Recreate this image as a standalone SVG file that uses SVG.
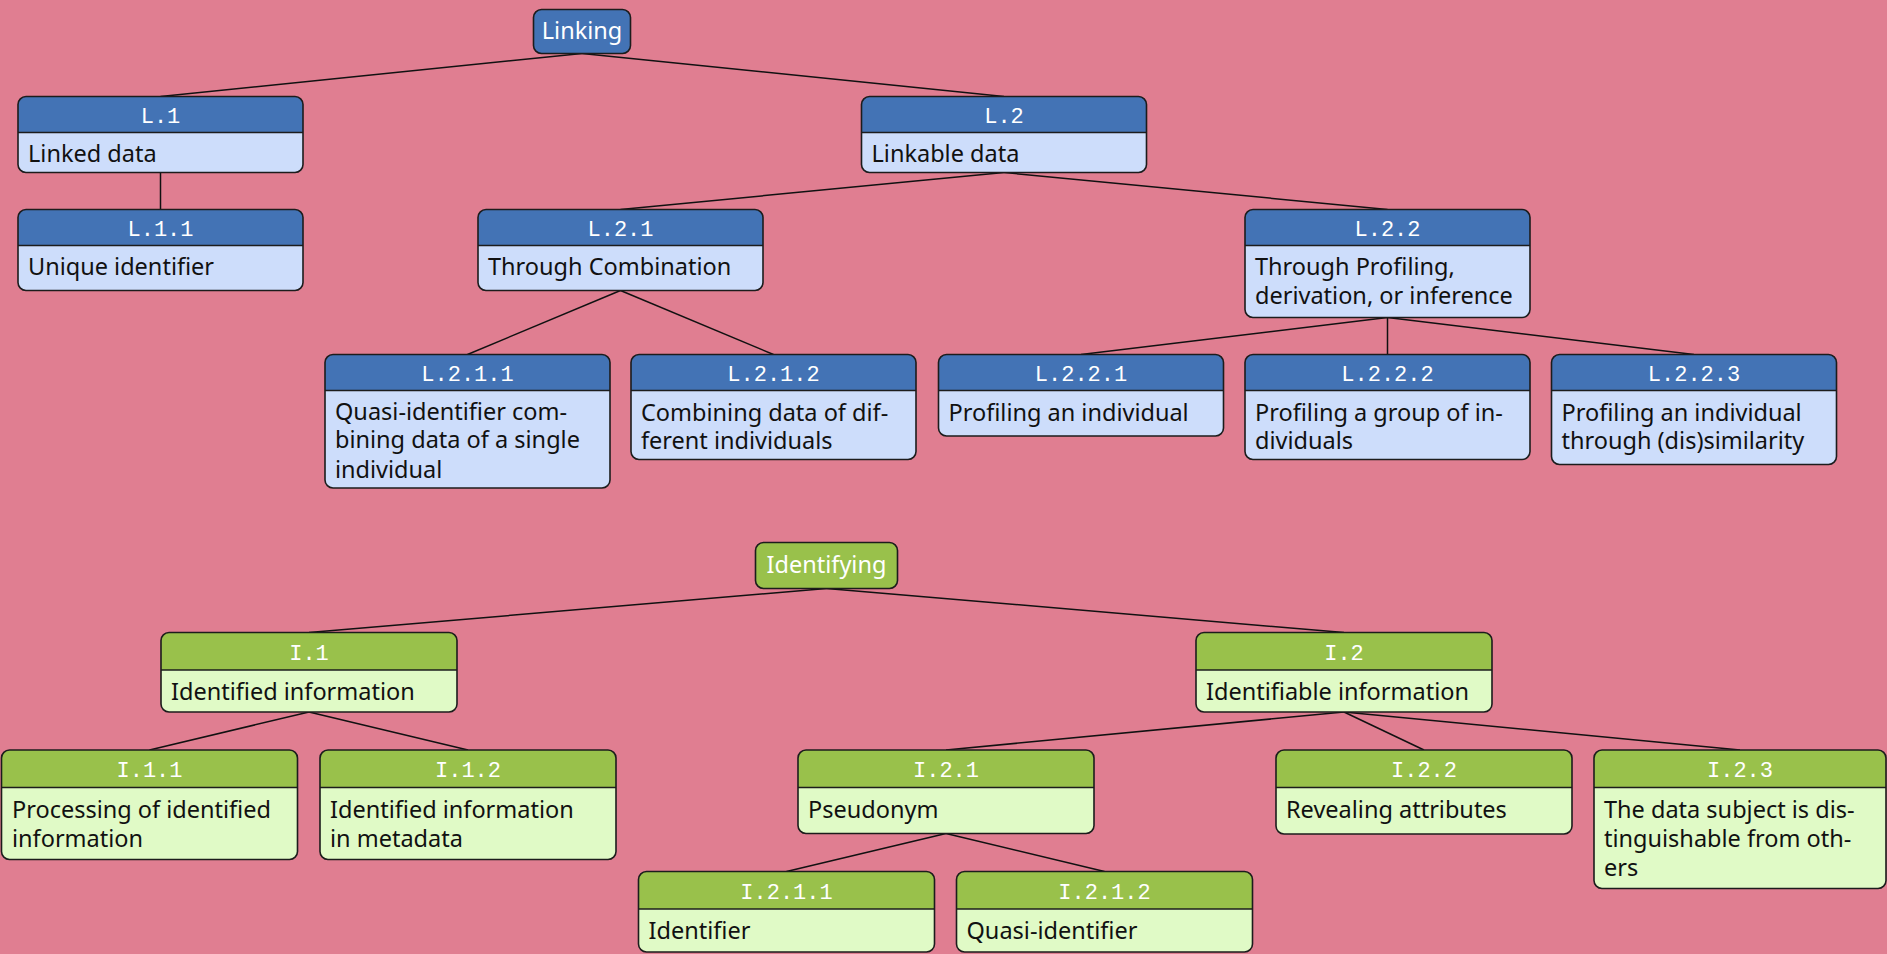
<svg xmlns="http://www.w3.org/2000/svg" width="1887" height="954" viewBox="0 0 1887 954">
<style>
.bg{fill:#E07E91}
.hL{fill:#4373B5}
.bL{fill:#CDDDFB}
.hI{fill:#99C14B}
.bI{fill:#E0FAC6}
.ol{fill:none;stroke:#1c1c1c;stroke-width:1.6}
.sep{stroke:#1c1c1c;stroke-width:1.6}
.code{font-family:"Liberation Mono","DejaVu Sans Mono",monospace;font-size:22px;fill:#ffffff;text-anchor:middle}
.root{font-family:"Noto Sans","Open Sans",sans-serif;font-size:23.5px;fill:#ffffff;text-anchor:middle}
.body{font-family:"Noto Sans","Open Sans",sans-serif;font-size:23.5px;fill:#111111}
.conn line{stroke:#111111;stroke-width:1.5}
</style>
<rect class="bg" x="0" y="0" width="1887" height="954"/>
<g id="connectors" class="conn">
<line x1="582" y1="53.5" x2="160.5" y2="96.5"/>
<line x1="582" y1="53.5" x2="1004" y2="96.5"/>
<line x1="160.5" y1="172.5" x2="160.5" y2="209.5"/>
<line x1="1004" y1="172.5" x2="620.5" y2="209.5"/>
<line x1="1004" y1="172.5" x2="1387.5" y2="209.5"/>
<line x1="620.5" y1="290.5" x2="467.5" y2="354.5"/>
<line x1="620.5" y1="290.5" x2="773.5" y2="354.5"/>
<line x1="1387.5" y1="317.5" x2="1081" y2="354.5"/>
<line x1="1387.5" y1="317.5" x2="1387.5" y2="354.5"/>
<line x1="1387.5" y1="317.5" x2="1694" y2="354.5"/>
<line x1="826.5" y1="588.5" x2="309" y2="632.5"/>
<line x1="826.5" y1="588.5" x2="1344" y2="632.5"/>
<line x1="309" y1="712" x2="149.5" y2="750"/>
<line x1="309" y1="712" x2="468" y2="750"/>
<line x1="1344" y1="712" x2="946" y2="750"/>
<line x1="1344" y1="712" x2="1424" y2="750"/>
<line x1="1344" y1="712" x2="1740" y2="750"/>
<line x1="946" y1="833.5" x2="786.5" y2="871.5"/>
<line x1="946" y1="833.5" x2="1104.5" y2="871.5"/>
</g>

<g id="linking">
<rect class="hL" x="533.5" y="9.5" width="97" height="44" rx="8"/>
<rect class="ol" x="533.5" y="9.5" width="97" height="44" rx="8"/>
<text class="root" x="582" y="39">Linking</text>
</g>

<g id="L1">
<rect class="hL" x="18" y="96.5" width="285" height="76" rx="8"/>
<path class="bL" d="M18,132.5 H303 V164.5 Q303,172.5 295,172.5 H26 Q18,172.5 18,164.5 Z"/>
<line class="sep" x1="18" y1="132.5" x2="303" y2="132.5"/>
<rect class="ol" x="18" y="96.5" width="285" height="76" rx="8"/>
<text class="code" x="160.5" y="122.5">L.1</text>
<text class="body" x="28" y="162">Linked data</text>
</g>

<g id="L2">
<rect class="hL" x="861.5" y="96.5" width="285" height="76" rx="8"/>
<path class="bL" d="M861.5,132.5 H1146.5 V164.5 Q1146.5,172.5 1138.5,172.5 H869.5 Q861.5,172.5 861.5,164.5 Z"/>
<line class="sep" x1="861.5" y1="132.5" x2="1146.5" y2="132.5"/>
<rect class="ol" x="861.5" y="96.5" width="285" height="76" rx="8"/>
<text class="code" x="1004" y="122.5">L.2</text>
<text class="body" x="871.5" y="162">Linkable data</text>
</g>

<g id="L1_1">
<rect class="hL" x="18" y="209.5" width="285" height="81" rx="8"/>
<path class="bL" d="M18,245.5 H303 V282.5 Q303,290.5 295,290.5 H26 Q18,290.5 18,282.5 Z"/>
<line class="sep" x1="18" y1="245.5" x2="303" y2="245.5"/>
<rect class="ol" x="18" y="209.5" width="285" height="81" rx="8"/>
<text class="code" x="160.5" y="235.5">L.1.1</text>
<text class="body" x="28" y="275">Unique identifier</text>
</g>

<g id="L2_1">
<rect class="hL" x="478" y="209.5" width="285" height="81" rx="8"/>
<path class="bL" d="M478,245.5 H763 V282.5 Q763,290.5 755,290.5 H486 Q478,290.5 478,282.5 Z"/>
<line class="sep" x1="478" y1="245.5" x2="763" y2="245.5"/>
<rect class="ol" x="478" y="209.5" width="285" height="81" rx="8"/>
<text class="code" x="620.5" y="235.5">L.2.1</text>
<text class="body" x="488" y="275">Through Combination</text>
</g>

<g id="L2_2">
<rect class="hL" x="1245" y="209.5" width="285" height="108" rx="8"/>
<path class="bL" d="M1245,245.5 H1530 V309.5 Q1530,317.5 1522,317.5 H1253 Q1245,317.5 1245,309.5 Z"/>
<line class="sep" x1="1245" y1="245.5" x2="1530" y2="245.5"/>
<rect class="ol" x="1245" y="209.5" width="285" height="108" rx="8"/>
<text class="code" x="1387.5" y="235.5">L.2.2</text>
<text class="body" x="1255" y="275">Through Profiling,</text>
<text class="body" x="1255" y="303.5">derivation, or inference</text>
</g>

<g id="L2_1_1">
<rect class="hL" x="325" y="354.5" width="285" height="133.5" rx="8"/>
<path class="bL" d="M325,390.5 H610 V480 Q610,488 602,488 H333 Q325,488 325,480 Z"/>
<line class="sep" x1="325" y1="390.5" x2="610" y2="390.5"/>
<rect class="ol" x="325" y="354.5" width="285" height="133.5" rx="8"/>
<text class="code" x="467.5" y="380.5">L.2.1.1</text>
<text class="body" x="335" y="419.5">Quasi-identifier com-</text>
<text class="body" x="335" y="448">bining data of a single</text>
<text class="body" x="335" y="477.5">individual</text>
</g>

<g id="L2_1_2">
<rect class="hL" x="631" y="354.5" width="285" height="105" rx="8"/>
<path class="bL" d="M631,390.5 H916 V451.5 Q916,459.5 908,459.5 H639 Q631,459.5 631,451.5 Z"/>
<line class="sep" x1="631" y1="390.5" x2="916" y2="390.5"/>
<rect class="ol" x="631" y="354.5" width="285" height="105" rx="8"/>
<text class="code" x="773.5" y="380.5">L.2.1.2</text>
<text class="body" x="641" y="420.5">Combining data of dif-</text>
<text class="body" x="641" y="449">ferent individuals</text>
</g>

<g id="L2_2_1">
<rect class="hL" x="938.5" y="354.5" width="285" height="81.5" rx="8"/>
<path class="bL" d="M938.5,390.5 H1223.5 V428 Q1223.5,436 1215.5,436 H946.5 Q938.5,436 938.5,428 Z"/>
<line class="sep" x1="938.5" y1="390.5" x2="1223.5" y2="390.5"/>
<rect class="ol" x="938.5" y="354.5" width="285" height="81.5" rx="8"/>
<text class="code" x="1081" y="380.5">L.2.2.1</text>
<text class="body" x="948.5" y="420.5">Profiling an individual</text>
</g>

<g id="L2_2_2">
<rect class="hL" x="1245" y="354.5" width="285" height="105" rx="8"/>
<path class="bL" d="M1245,390.5 H1530 V451.5 Q1530,459.5 1522,459.5 H1253 Q1245,459.5 1245,451.5 Z"/>
<line class="sep" x1="1245" y1="390.5" x2="1530" y2="390.5"/>
<rect class="ol" x="1245" y="354.5" width="285" height="105" rx="8"/>
<text class="code" x="1387.5" y="380.5">L.2.2.2</text>
<text class="body" x="1255" y="420.5">Profiling a group of in-</text>
<text class="body" x="1255" y="449">dividuals</text>
</g>

<g id="L2_2_3">
<rect class="hL" x="1551.5" y="354.5" width="285" height="110" rx="8"/>
<path class="bL" d="M1551.5,390.5 H1836.5 V456.5 Q1836.5,464.5 1828.5,464.5 H1559.5 Q1551.5,464.5 1551.5,456.5 Z"/>
<line class="sep" x1="1551.5" y1="390.5" x2="1836.5" y2="390.5"/>
<rect class="ol" x="1551.5" y="354.5" width="285" height="110" rx="8"/>
<text class="code" x="1694" y="380.5">L.2.2.3</text>
<text class="body" x="1561.5" y="420.5">Profiling an individual</text>
<text class="body" x="1561.5" y="449">through (dis)similarity</text>
</g>

<g id="identifying">
<rect class="hI" x="755.5" y="542.5" width="142" height="46" rx="8"/>
<rect class="ol" x="755.5" y="542.5" width="142" height="46" rx="8"/>
<text class="root" x="826.5" y="572.5">Identifying</text>
</g>

<g id="I1">
<rect class="hI" x="161" y="632.5" width="296" height="79.5" rx="8"/>
<path class="bI" d="M161,670 H457 V704 Q457,712 449,712 H169 Q161,712 161,704 Z"/>
<line class="sep" x1="161" y1="670" x2="457" y2="670"/>
<rect class="ol" x="161" y="632.5" width="296" height="79.5" rx="8"/>
<text class="code" x="309" y="659.5">I.1</text>
<text class="body" x="171" y="700">Identified information</text>
</g>

<g id="I2">
<rect class="hI" x="1196" y="632.5" width="296" height="79.5" rx="8"/>
<path class="bI" d="M1196,670 H1492 V704 Q1492,712 1484,712 H1204 Q1196,712 1196,704 Z"/>
<line class="sep" x1="1196" y1="670" x2="1492" y2="670"/>
<rect class="ol" x="1196" y="632.5" width="296" height="79.5" rx="8"/>
<text class="code" x="1344" y="659.5">I.2</text>
<text class="body" x="1206" y="700">Identifiable information</text>
</g>

<g id="I1_1">
<rect class="hI" x="1.5" y="750" width="296" height="109.5" rx="8"/>
<path class="bI" d="M1.5,787.5 H297.5 V851.5 Q297.5,859.5 289.5,859.5 H9.5 Q1.5,859.5 1.5,851.5 Z"/>
<line class="sep" x1="1.5" y1="787.5" x2="297.5" y2="787.5"/>
<rect class="ol" x="1.5" y="750" width="296" height="109.5" rx="8"/>
<text class="code" x="149.5" y="777">I.1.1</text>
<text class="body" x="12" y="817.5">Processing of identified</text>
<text class="body" x="12" y="846.5">information</text>
</g>

<g id="I1_2">
<rect class="hI" x="320" y="750" width="296" height="109.5" rx="8"/>
<path class="bI" d="M320,787.5 H616 V851.5 Q616,859.5 608,859.5 H328 Q320,859.5 320,851.5 Z"/>
<line class="sep" x1="320" y1="787.5" x2="616" y2="787.5"/>
<rect class="ol" x="320" y="750" width="296" height="109.5" rx="8"/>
<text class="code" x="468" y="777">I.1.2</text>
<text class="body" x="330" y="817.5">Identified information</text>
<text class="body" x="330" y="846.5">in metadata</text>
</g>

<g id="I2_1">
<rect class="hI" x="798" y="750" width="296" height="83.5" rx="8"/>
<path class="bI" d="M798,787.5 H1094 V825.5 Q1094,833.5 1086,833.5 H806 Q798,833.5 798,825.5 Z"/>
<line class="sep" x1="798" y1="787.5" x2="1094" y2="787.5"/>
<rect class="ol" x="798" y="750" width="296" height="83.5" rx="8"/>
<text class="code" x="946" y="777">I.2.1</text>
<text class="body" x="808" y="817.5">Pseudonym</text>
</g>

<g id="I2_2">
<rect class="hI" x="1276" y="750" width="296" height="84" rx="8"/>
<path class="bI" d="M1276,787.5 H1572 V826 Q1572,834 1564,834 H1284 Q1276,834 1276,826 Z"/>
<line class="sep" x1="1276" y1="787.5" x2="1572" y2="787.5"/>
<rect class="ol" x="1276" y="750" width="296" height="84" rx="8"/>
<text class="code" x="1424" y="777">I.2.2</text>
<text class="body" x="1286" y="817.5">Revealing attributes</text>
</g>

<g id="I2_3">
<rect class="hI" x="1594" y="750" width="292" height="138.5" rx="8"/>
<path class="bI" d="M1594,787.5 H1886 V880.5 Q1886,888.5 1878,888.5 H1602 Q1594,888.5 1594,880.5 Z"/>
<line class="sep" x1="1594" y1="787.5" x2="1886" y2="787.5"/>
<rect class="ol" x="1594" y="750" width="292" height="138.5" rx="8"/>
<text class="code" x="1740" y="777">I.2.3</text>
<text class="body" x="1604" y="817.5">The data subject is dis-</text>
<text class="body" x="1604" y="846.5">tinguishable from oth-</text>
<text class="body" x="1604" y="875.5">ers</text>
</g>

<g id="I2_1_1">
<rect class="hI" x="638.5" y="871.5" width="296" height="80.5" rx="8"/>
<path class="bI" d="M638.5,909 H934.5 V944 Q934.5,952 926.5,952 H646.5 Q638.5,952 638.5,944 Z"/>
<line class="sep" x1="638.5" y1="909" x2="934.5" y2="909"/>
<rect class="ol" x="638.5" y="871.5" width="296" height="80.5" rx="8"/>
<text class="code" x="786.5" y="898.5">I.2.1.1</text>
<text class="body" x="648.5" y="939">Identifier</text>
</g>

<g id="I2_1_2">
<rect class="hI" x="956.5" y="871.5" width="296" height="80.5" rx="8"/>
<path class="bI" d="M956.5,909 H1252.5 V944 Q1252.5,952 1244.5,952 H964.5 Q956.5,952 956.5,944 Z"/>
<line class="sep" x1="956.5" y1="909" x2="1252.5" y2="909"/>
<rect class="ol" x="956.5" y="871.5" width="296" height="80.5" rx="8"/>
<text class="code" x="1104.5" y="898.5">I.2.1.2</text>
<text class="body" x="966.5" y="939">Quasi-identifier</text>
</g>
</svg>
